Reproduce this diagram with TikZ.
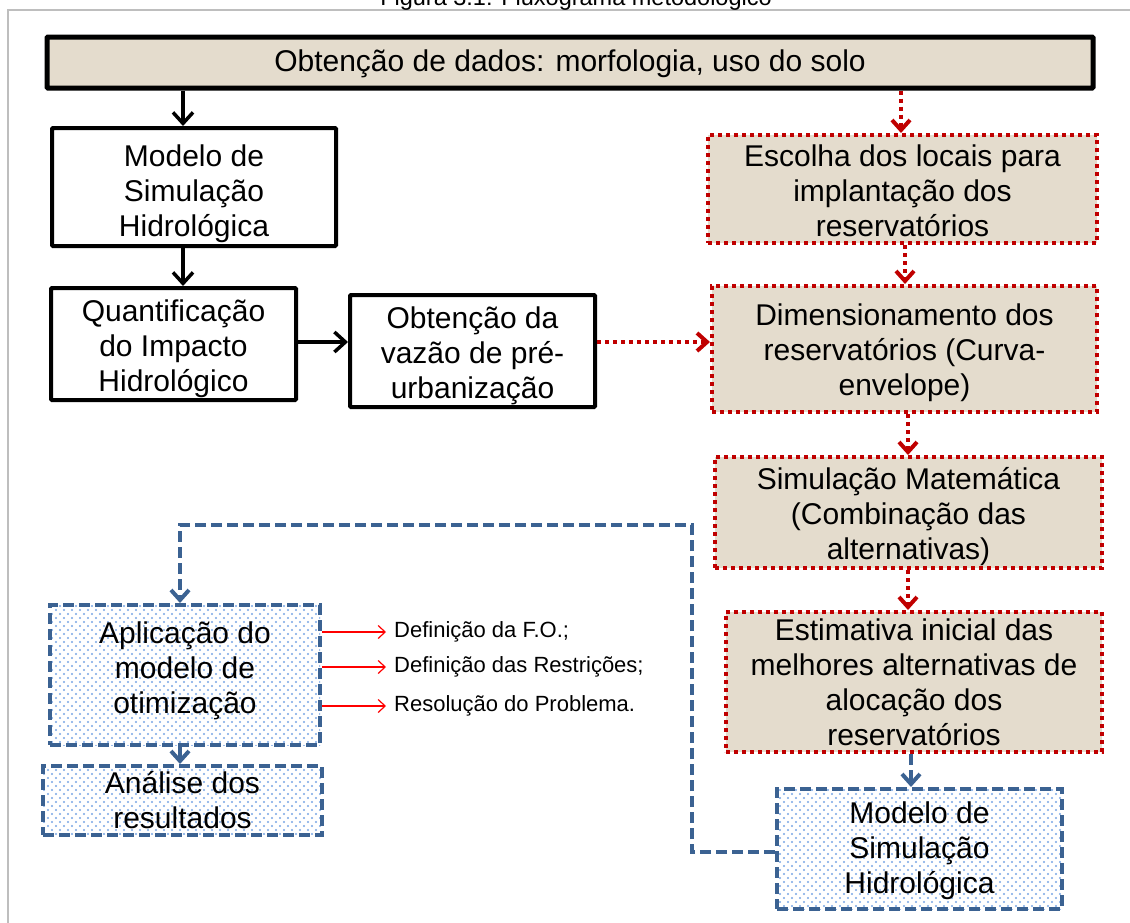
\documentclass[tikz,border=0pt]{standalone}
\usepackage{fontspec}
\setmainfont{Liberation Sans}
\usetikzlibrary{arrows.meta,patterns.meta}
\definecolor{tanfill}{RGB}{228,220,205}
\definecolor{dred}{RGB}{192,0,0}
\definecolor{dblue}{RGB}{59,98,146}
\definecolor{ldot}{RGB}{120,165,228}
\newcommand\tstrut[1]{\rule{0pt}{#1}}
\newcommand\bstrut[1]{\rule[-#1]{0pt}{#1}}
\tikzset{
 big/.style={font=\fontsize{30}{35}\selectfont, align=center, inner sep=0pt},
 topbox/.style={big, draw=black, line width=5pt, fill=tanfill, rounded corners=1pt},
 blackbox/.style={big, draw=black, line width=4pt, fill=white, rounded corners=1pt},
 tanbox/.style={big, draw=dred, line width=4pt, dash pattern=on 4pt off 4pt, fill=tanfill},
 bluebox/.style={big, draw=dblue, line width=4pt, dash pattern=on 11pt off 5pt,
   preaction={fill=white},
   preaction={pattern={Dots[distance=8pt,radius=1.05pt]}, pattern color=ldot},
   preaction={pattern={Dots[distance=8pt,radius=1.05pt,xshift=4pt,yshift=4pt]}, pattern color=ldot}},
 blk/.style={draw=black, line width=3.5pt, -{Straight Barb[length=11pt,width=20pt]}},
 rdot/.style={draw=dred, line width=4pt, dash pattern=on 4pt off 4pt, -{Straight Barb[length=10pt,width=18pt]}},
 bdash/.style={draw=dblue, line width=4pt, dash pattern=on 11pt off 5pt, -{Straight Barb[length=10pt,width=18pt]}},
 thinarr/.style={draw=red, line width=1.2pt, -{Straight Barb[length=7pt,width=13pt]}},
 small/.style={font=\fontsize{22}{25}\selectfont, anchor=west, inner sep=0pt},
}
\begin{document}
\begin{tikzpicture}[x=1pt,y=-1pt]
\useasboundingbox (0,0) rectangle (1130,922);
% frame and title
\draw[draw={rgb,255:red,190;green,190;blue,190}, line width=1.5pt] (1140,10) -- (8,10) -- (8,932);
\node[font=\fontsize{23.5}{26}\selectfont, anchor=base, inner sep=0pt] (title) at (576,5) {Figura 3.1: Fluxograma metodológico};
% boxes
\node[topbox, minimum width=1046pt, minimum height=51pt] (top) at (570,62.5) {\tstrut{25pt}Obtenção de dados: morfologia, uso do solo};
\node[blackbox, minimum width=284pt, minimum height=118pt] (m1) at (194,187) {\tstrut{36pt}Modelo de\\Simulação\\Hidrológica};
\node[blackbox, minimum width=245pt, minimum height=112pt] (q) at (173.5,344) {\tstrut{32pt}Quantificação\\do Impacto\\Hidrológico};
\node[blackbox, minimum width=245pt, minimum height=112pt] (ov) at (472.5,351) {\tstrut{31pt}Obtenção da\\vazão de pré-\\urbanização};
\node[tanbox, minimum width=389pt, minimum height=108pt] (esc) at (902.5,189) {\tstrut{25pt}Escolha dos locais para\\implantação dos\\reservatórios};
\node[tanbox, minimum width=385pt, minimum height=126pt] (dim) at (904.5,349) {\tstrut{30pt}Dimensionamento dos\\reservatórios (Curva-\\envelope)};
\node[tanbox, minimum width=387pt, minimum height=111pt] (sim) at (908.5,512.5) {\tstrut{31pt}Simulação Matemática\\(Combinação das\\alternativas)};
\node[tanbox, minimum width=376pt, minimum height=140pt] (est) at (914,682) {Estimativa inicial das\\melhores alternativas de\\alocação dos\\reservatórios};
\node[bluebox, minimum width=285pt, minimum height=120pt] (mb) at (919.5,849) {\tstrut{25pt}Modelo de\\Simulação\\Hidrológica};
\node[bluebox, minimum width=270pt, minimum height=140pt] (apl) at (185,675) {Aplicação do\\modelo de\\otimização\bstrut{14pt}};
\node[bluebox, minimum width=279pt, minimum height=69pt] (ana) at (182.5,800.5) {Análise dos\\resultados};
% side texts
\node[small] (t1) at (394,632) {Definição da F.O.;};
\node[small] (t2) at (394,667) {Definição das Restrições;};
\node[small] (t3) at (394,706) {Resolução do Problema.};
% helper coordinates
\coordinate (xa) at (183,0);
\coordinate (xb) at (901,0);
\coordinate (xc) at (905,0);
\coordinate (xd) at (908,0);
\coordinate (xe) at (911,0);
\coordinate (xf) at (180,0);
\coordinate (ya) at (0,342);
\coordinate (yb) at (0,852);
\coordinate (c1) at (692,852);
\coordinate (c2) at (692,525);
\coordinate (c3) at (180,525);
\coordinate (tip1) at (386,632);
\coordinate (tip2) at (386,667);
\coordinate (tip3) at (386,706);
% connectors
\draw[blk] (top.south -| xa) -- (m1.north -| xa);
\draw[blk] (m1.south -| xa) -- (q.north -| xa);
\draw[blk] (q.east |- ya) -- (ov.west |- ya);
\draw[rdot] (ov.east |- ya) -- (dim.west |- ya);
\draw[rdot] (top.south -| xb) -- (esc.north -| xb);
\draw[rdot] (esc.south -| xc) -- (dim.north -| xc);
\draw[rdot] (dim.south -| xd) -- (sim.north -| xd);
\draw[rdot] (sim.south -| xd) -- (est.north -| xd);
\draw[bdash] (est.south -| xe) -- (mb.north -| xe);
\draw[bdash] (mb.west |- yb) -- (c1) -- (c2) -- (c3) -- (apl.north -| xf);
\draw[bdash] (apl.south -| xf) -- (ana.north -| xf);
\draw[thinarr] (apl.east |- tip1) -- (tip1);
\draw[thinarr] (apl.east |- tip2) -- (tip2);
\draw[thinarr] (apl.east |- tip3) -- (tip3);
\end{tikzpicture}
\end{document}
